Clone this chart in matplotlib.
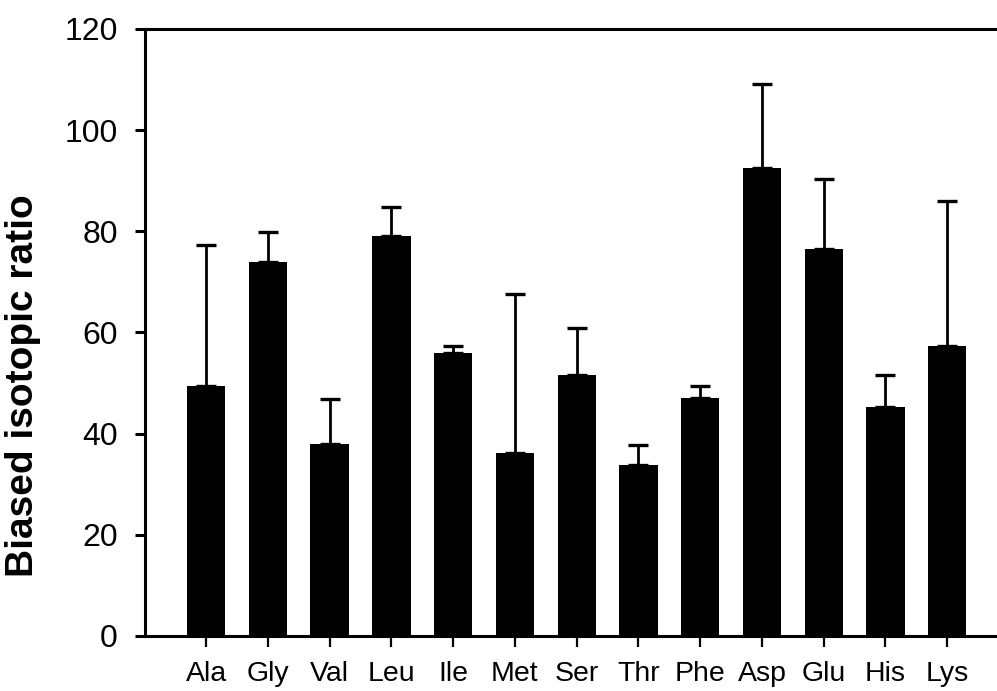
import matplotlib
matplotlib.use("Agg")
import matplotlib.pyplot as plt
import numpy as np

plt.rcParams['font.family'] = ['Liberation Sans', 'DejaVu Sans']

# amino acid means and upper error
amino = ["Ala", "Gly", "Val", "Leu", "Ile", "Met", "Ser",
         "Thr", "Phe", "Asp", "Glu", "His", "Lys"]
ratio = [49.4, 74.0, 37.9, 79.1, 55.9, 36.1, 51.6,
         33.8, 47.0, 92.6, 76.5, 45.2, 57.4]
err_up = [27.9, 5.9, 9.0, 5.7, 1.5, 31.5, 9.2,
          4.0, 2.4, 16.5, 13.9, 6.3, 28.6]

fig = plt.figure(figsize=(9.97, 6.91), dpi=100)
ax = fig.add_axes([0.1454, 0.0796, 0.853, 0.8785])

x = np.arange(len(amino))
ax.bar(x, ratio, width=0.62, color='black', zorder=2)
ax.errorbar(x, ratio, yerr=[np.zeros(len(err_up)), err_up], fmt='none',
            ecolor='black', elinewidth=2.0, capsize=7.5, capthick=2.4,
            zorder=1)

ax.set_xlim(-0.99, 12.78)
ax.set_ylim(0, 120)
ax.set_yticks(np.arange(0, 121, 20))
ax.set_xticks(x)
ax.set_xticklabels(amino, fontsize=20.5)
ax.tick_params(axis='y', direction='out', length=7.5, width=2.2,
               labelsize=23, pad=12)
ax.tick_params(axis='x', direction='out', length=8, width=1.6, pad=10)

for side in ['left', 'bottom', 'top']:
    ax.spines[side].set_linewidth(2.2)
ax.spines['right'].set_visible(False)

ax.set_ylabel("Biased isotopic ratio", fontsize=28, fontweight='bold')
ax.yaxis.set_label_coords(-0.122, 0.413)

fig.savefig("out.png", dpi=100)
